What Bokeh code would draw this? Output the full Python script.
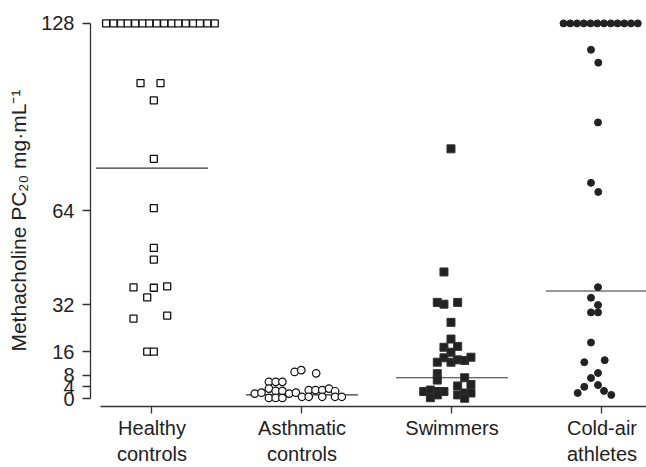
import math
from bokeh.plotting import figure
from bokeh.models import Range1d, FixedTicker
from bokeh.embed import file_html
from bokeh.resources import INLINE

# ---------------- data ----------------
categories = ["Healthy\ncontrols", "Asthmatic\ncontrols", "Swimmers", "Cold-air\nathletes"]
y_ticks = [0, 4, 8, 16, 32, 64, 128]

healthy_vals = [128, 128, 128, 128, 128, 128, 128, 128, 128, 128, 128, 128, 128, 128, 128, 128,
                107.6, 107.6, 101.7, 81.8, 65.0, 51.4, 47.4, 37.9, 37.8, 38.3, 34.5, 27.3, 28.3, 16.0, 16.0]
healthy_slots = [-6.8, -5.7, -4.6, -3.6, -2.5, -1.4, -0.4, 0.7, 1.8, 2.9, 3.9, 5.0, 6.1, 7.1, 8.2, 9.3,
                 -1.7, 1.26, 0.27, 0.27, 0.27, 0.27, 0.27, -2.74, 0.27, 2.25, -0.71, -2.74, 2.25, -0.71, 0.27]

asthma_vals = [9.1, 9.7, 8.6, 5.7, 5.7, 5.7, 3.4, 2.6, 2.6, 1.7, 2.0, 1.7, 2.0, 0.2, 0.2, 0.2,
               2.9, 2.9, 2.9, 3.4, 2.5, 0.6, 0.6, 0.6, 0.6, 0.6]
asthma_slots = [-1.1, -0.1, 2.1, -4.9, -3.9, -2.9, -4.9, -3.9, -2.9, -7.0, -6.0, -1.9, -0.9, -4.9, -3.9, -2.9,
                1.0, 2.0, 3.0, 4.0, 4.9, 0.0, 1.0, 3.0, 4.9, 5.9]

swim_vals = [85.2, 43.2, 32.8, 32.2, 32.8, 26.0, 20.3, 17.5, 17.8, 15.8,
             13.9, 12.4, 12.4, 13.2, 13.0, 14.1, 8.5, 6.3, 7.1, 4.8, 4.3,
             2.4, 2.9, 2.4, 2.4, 0.3, 1.25, 1.25, 1.9, 1.9, 0.1]
swim_slots = [-0.15, -1.19, -2.18, -1.19, 0.84, -0.15, -0.15, -1.19, 0.84, -0.15,
              -1.19, -2.18, -0.15, 0.84, 1.88, 2.81, -2.18, -2.18, 1.88, 2.81, 0.84,
              -4.19, -3.2, -2.18, -1.19, -3.2, -2.18, 0.84, 1.88, 2.81, 1.88]

cold_vals = [128, 128, 128, 128, 128, 128, 128, 128, 128, 128, 128, 128,
             119.0, 114.6, 94.2, 73.6, 70.5, 38.0, 34.4, 31.9, 29.4, 29.4, 19.1,
             12.4, 13.1, 8.7, 7.0, 4.0, 4.6, 1.9, 2.6, 1.25]
cold_slots = [-5.7, -4.7, -3.7, -2.7, -1.7, -0.7, 0.3, 1.3, 2.3, 3.3, 4.3, 5.3,
              -1.63, -0.55, -0.59, -1.63, -0.55, -0.59, -1.63, -0.59, -1.63, -0.59, -1.63,
              -2.62, 0.4, -0.59, -1.63, -2.62, -0.59, -3.6, 0.3, 1.38]

medians = [78.6, 1.25, 7.1, 36.7]

y_title = "Methacholine PC\u2082\u2080 mg\u00b7mL\u207b\u00b9"

# ---------------- layout constants ----------------
SLOT = 6.75 / 150.0
HALF = 0.373
FONT = "Liberation Sans"
TXT = "#222222"

p = figure(width=646, height=467,
           x_range=Range1d(-0.41, 3.2967), y_range=Range1d(-2.71, 134.1),
           output_backend="svg", toolbar_location=None,
           min_border_left=90, min_border_right=0, min_border_top=5, min_border_bottom=58)
p.outline_line_color = None
p.xgrid.visible = False
p.ygrid.visible = False
p.background_fill_color = "white"
p.border_fill_color = "white"

# y axis
p.yaxis.ticker = FixedTicker(ticks=y_ticks)
p.yaxis.bounds = (0, 128)
p.yaxis.major_tick_out = 8
p.yaxis.major_tick_in = 0
p.yaxis.minor_tick_out = 0
p.yaxis.minor_tick_in = 0
p.yaxis.major_label_standoff = 8
p.yaxis.major_label_text_font = FONT
p.yaxis.major_label_text_font_size = "20px"
p.yaxis.major_label_text_color = TXT
p.yaxis.axis_line_color = "#333333"
p.yaxis.axis_line_width = 1.3
p.yaxis.major_tick_line_color = "#333333"
p.yaxis.major_tick_line_width = 1.3
# trailing no-break spaces nudge the centred title down to match the reference
p.yaxis.axis_label = y_title + "\u00a0" * 5
p.yaxis.axis_label_text_font = FONT
p.yaxis.axis_label_text_font_size = "21px"
p.yaxis.axis_label_text_font_style = "normal"
p.yaxis.axis_label_text_color = TXT
p.yaxis.axis_label_standoff = 8

# x axis
p.xaxis.ticker = FixedTicker(ticks=[0, 1, 2, 3])
p.xaxis.major_label_overrides = {i: c for i, c in enumerate(categories)}
p.xaxis.bounds = (-0.343, 3.3)
p.xaxis.major_tick_out = 7
p.xaxis.major_tick_in = 0
p.xaxis.minor_tick_out = 0
p.xaxis.minor_tick_in = 0
p.xaxis.major_label_standoff = 3
p.xaxis.major_label_text_font = FONT
p.xaxis.major_label_text_font_size = "20px"
p.xaxis.major_label_text_color = TXT
p.xaxis.major_label_text_line_height = 1.2
p.xaxis.axis_line_color = "#333333"
p.xaxis.axis_line_width = 1.3
p.xaxis.major_tick_line_color = "#333333"
p.xaxis.major_tick_line_width = 1.3

# median lines
p.segment(x0=[i - HALF for i in range(4)], x1=[i + HALF for i in range(4)],
          y0=medians, y1=medians, line_color="#333333", line_width=1.2)

def xs(cat, slots):
    return [cat + s * SLOT for s in slots]

p.scatter(xs(0, healthy_slots), healthy_vals, marker="square", size=7,
          fill_color="white", line_color="#111111", line_width=1.3)
p.scatter(xs(1, asthma_slots), asthma_vals, marker="circle", size=7.5,
          fill_color="white", line_color="#111111", line_width=1.2)
p.scatter(xs(2, swim_slots), swim_vals, marker="square", size=8,
          fill_color="#222222", line_color="#333333", line_width=1.0)
p.scatter(xs(3, cold_slots), cold_vals, marker="circle", size=7,
          fill_color="#222222", line_color="#222222", line_width=1.0)

open("out.html", "w").write(file_html(p, INLINE))
